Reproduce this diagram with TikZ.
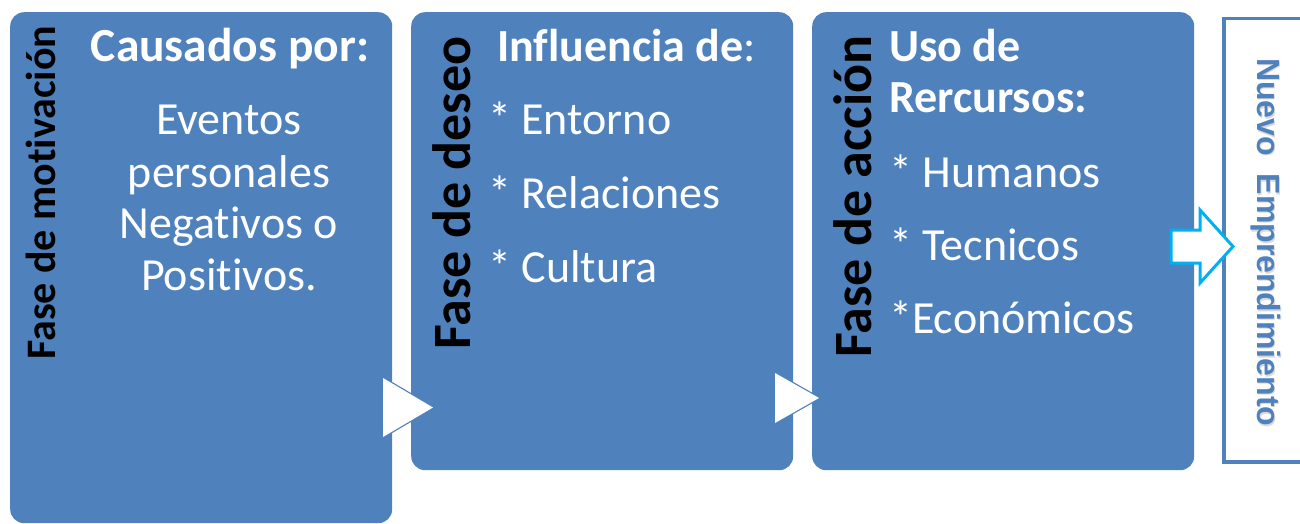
\documentclass[tikz,border=0pt]{standalone}
\usepackage{fontspec}
\setmainfont{Carlito}[Ligatures=NoCommon]
\newfontfamily\arialfont{Liberation Sans}
\definecolor{boxblue}{HTML}{4F81BD}
\definecolor{cyanarrow}{HTML}{00B0F0}
\newcommand{\myfs}[1]{\fontsize{#1}{#1}\selectfont}
\newcommand{\nolig}{\kern0pt }
\begin{document}
\begin{tikzpicture}[x=1pt,y=-1pt,
  phase/.style={fill=boxblue, draw=none, rounded corners=14pt, anchor=north west, inner sep=0pt},
  vlabel/.style={rotate=90, anchor=base west, inner sep=0pt, text=black, font=\myfs{54}\bfseries},
  head/.style={anchor=base west, inner sep=0pt, text=white, font=\myfs{46}\bfseries},
  item/.style={anchor=base west, inner sep=0pt, text=white, font=\myfs{46}},
  citem/.style={anchor=base, inner sep=0pt, text=white, font=\myfs{46}},
  tri/.style={fill=white, draw=boxblue, line width=2.5pt, line join=miter}
]
\useasboundingbox (0,0) rectangle (1300,524);
% boxes
\node[phase, minimum width=382pt, minimum height=511pt] (p1) at (10,12) {};
\node[phase, minimum width=382pt, minimum height=458pt] (p2) at (411,12) {};
\node[phase, minimum width=382pt, minimum height=458pt] (p3) at (812,12) {};
\node[draw=boxblue, fill=white, line width=3.5pt, anchor=north west, inner sep=0pt,
      minimum width=120pt, minimum height=443pt] (p4) at (1222,17) {};
% triangle connectors
\coordinate (t1a) at (383,378); \coordinate (t1b) at (383,437); \coordinate (t1c) at (433,407.5);
\draw[tri] (t1a) -- (t1c) -- (t1b);
\fill[white] (t1a) -- (t1c) -- (t1b) -- cycle;
\coordinate (t2a) at (775,373); \coordinate (t2b) at (775,423); \coordinate (t2c) at (819,398);
\draw[tri] (t2a) -- (t2c) -- (t2b);
\fill[white] (t2a) -- (t2c) -- (t2b) -- cycle;
% block arrow
\draw[cyanarrow, fill=white, line width=3pt, line join=miter]
  (1171,230) -- (1200,230) -- (1200,210) -- (1233,246.5) -- (1200,283) -- (1200,263) -- (1171,263) -- cycle;
% rotated phase labels
\node[vlabel, font=\myfs{42}\bfseries] (l1) at (55,360) {Fase de mot\nolig ivación};
\node[vlabel] (l2) at (470,350) {Fase de deseo};
\node[vlabel] (l3) at (871,358) {Fase de acción};
% box 1 text
\node[citem, font=\myfs{47.5}\bfseries] (a0) at (230,62) {Causados por:};
\node[citem] (a1) at (229,135) {Eventos};
\node[citem] (a2) at (229,187) {personales};
\node[citem] (a3) at (229,238) {Negat\nolig ivos o};
\node[citem] (a4) at (229,290) {Posit\nolig ivos.};
% box 2 text
\node[head] (b0) at (497,62) {Influencia de\mdseries:};
\node[item] (b1) at (488,135) {* Entorno};
\node[item] (b2) at (488,208) {* Relaciones};
\node[item] (b3) at (488,282) {* Cultura};
% box 3 text
\node[head] (c0) at (889,62) {Uso de};
\node[head] (c1) at (889,113) {Rercursos:};
\node[item] (c2) at (889,187) {* Humanos};
\node[item] (c3) at (889,260) {* Tecnicos};
\node[item] (c4) at (889,333) {*Económicos};
% result label
\node[rotate=-90, anchor=base west, inner sep=0pt, text=black!25, opacity=0.6,
      font=\arialfont\bfseries\myfs{32}] (n0s) at (1258.5,59.5) {Nuevo\ \ Emprendimiento};
\node[rotate=-90, anchor=base west, inner sep=0pt, text=boxblue,
      font=\arialfont\bfseries\myfs{32}] (n0) at (1257,58) {Nuevo\ \ Emprendimiento};
\end{tikzpicture}
\end{document}
